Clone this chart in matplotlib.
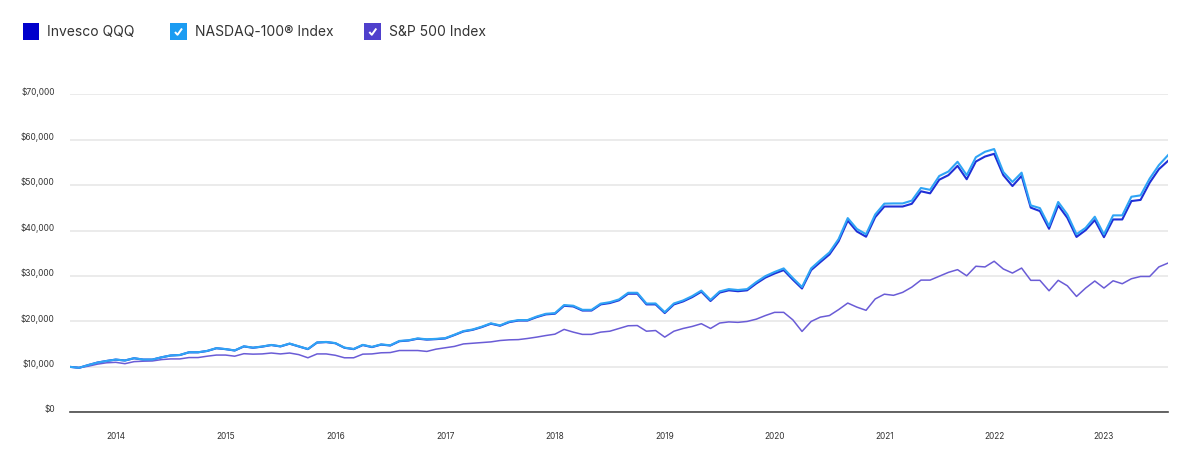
import matplotlib
matplotlib.use("Agg")
import matplotlib.pyplot as plt
import matplotlib.transforms as mtransforms
from matplotlib.patches import Rectangle
from matplotlib.lines import Line2D
from matplotlib.ticker import FuncFormatter

# Growth of $10,000, monthly, Jul 2013 - Jul 2023
qqq = [10000, 9800, 10400, 10950, 11300, 11600, 11400, 11900, 11600, 11600,
       12100, 12500, 12600, 13200, 13200, 13500, 14100, 13900, 13600, 14500,
       14200, 14450, 14800, 14500, 15100,
       14500, 13900, 15350, 15450, 15200, 14200, 13900, 14800, 14350, 14900,
       14700, 15650, 15800, 16200, 16000, 16100, 16250, 17000, 17800, 18150,
       18750, 19500, 19050, 19850,
       20200, 20200, 20950, 21550, 21700, 23450, 23300, 22400, 22400, 23750,
       24050, 24650, 26100, 26100, 23750, 23750, 21850, 23750, 24400, 25350,
       26550, 24500, 26350, 26850,
       26650, 26850, 28350, 29650, 30550, 31300, 29200, 27250, 31300, 33050,
       34750, 37650, 42200, 39800, 38650, 42950, 45300, 45300, 45300, 45900,
       48650, 48200, 51200,
       52200, 54250, 51300, 55200, 56300, 56900, 52200, 49800, 52050, 45050,
       44300, 40400, 45550, 42800, 38600, 40100, 42300, 38550, 42450, 42450,
       46500, 46750, 50550, 53500, 55350]

ndx = [10000, 9800, 10400, 10950, 11300, 11610, 11410, 11910, 11610, 11610,
       12110, 12510, 12620, 13220, 13220, 13520, 14120, 13920, 13620, 14530,
       14230, 14480, 14830, 14530, 15130,
       14530, 13930, 15390, 15490, 15240, 14240, 13940, 14850, 14400, 14950,
       14750, 15710, 15860, 16270, 16070, 16170, 16320, 17070, 17880, 18230,
       18840, 19590, 19140, 19950,
       20300, 20300, 21080, 21680, 21830, 23610, 23460, 22560, 22560, 23920,
       24240, 24850, 26310, 26310, 23940, 23960, 22050, 23960, 24620, 25580,
       26790, 24750, 26610, 27120,
       26920, 27120, 28660, 29980, 30890, 31680, 29550, 27580, 31680, 33480,
       35200, 38140, 42750, 40360, 39190, 43550, 45930, 45980, 45980, 46590,
       49380, 48970, 52020,
       53000, 55150, 52200, 56150, 57350, 57950, 52900, 50700, 52750, 45550,
       44950, 41000, 46300, 43550, 39200, 40600, 43050, 39150, 43350, 43350,
       47450, 47750, 51450, 54400, 56600]

spx = [10000, 9800, 10150, 10600, 10900, 11000, 10700, 11150, 11250, 11300,
       11600, 11750, 11750, 12050, 12050, 12350, 12600, 12600, 12350, 12900,
       12800, 12850, 13050, 12850, 13050,
       12700, 12000, 12850, 12850, 12550, 12000, 12000, 12800, 12850, 13100,
       13150, 13600, 13600, 13600, 13400, 13900, 14200, 14500, 15050, 15200,
       15350, 15500, 15800, 15950,
       16000, 16250, 16550, 16900, 17200, 18250, 17650, 17150, 17150, 17650,
       17850, 18450, 19050, 19100, 17850, 18000, 16550, 17850, 18450, 18900,
       19500, 18450, 19650, 19900,
       19800, 20000, 20500, 21300, 22000, 22000, 20350, 17800, 20000, 20950,
       21300, 22600, 24050, 23150, 22450, 24950, 26000, 25750, 26400, 27550,
       29100, 29100, 29950,
       30800, 31400, 30050, 32150, 32000, 33250, 31550, 30650, 31750, 29050,
       29050, 26750, 29050, 27850, 25500, 27350, 28900, 27350, 28950, 28300,
       29400, 29900, 29900, 32000, 32850]

years = ["2014", "2015", "2016", "2017", "2018", "2019", "2020", "2021", "2022", "2023"]
year_pos = [5, 17, 29, 41, 53, 65, 77, 89, 101, 113]  # month index of each year mark

legend_names = ["Invesco QQQ", "NASDAQ-100\u00ae Index", "S&P 500 Index"]
line_colors = ["#1f2fd6", "#2fa4f5", "#6a5cd6"]
box_colors = ["#0000cc", "#1b9cf2", "#4f40cc"]

plt.rcParams["font.family"] = ["Inter", "DejaVu Sans"]

W, H = 1200, 463
fig = plt.figure(figsize=(W / 100, H / 100), dpi=100)
ax = fig.add_axes([70 / W, 1 - 412.3 / H, 1098 / W, (412.3 - 94.3) / H])

months = list(range(len(qqq)))
ax.plot(months, qqq, color=line_colors[0], lw=1.5, zorder=3)
ax.plot(months, ndx, color=line_colors[1], lw=1.5, zorder=4)
ax.plot(months, spx, color=line_colors[2], lw=1.1, zorder=3)

ax.set_xlim(0, len(qqq) - 1)
ax.set_ylim(0, 70000)
ax.set_yticks(range(0, 70001, 10000))
ax.yaxis.set_major_formatter(FuncFormatter(lambda v, p: f"${v:,.0f}"))
ax.set_xticks(year_pos)
ax.set_xticklabels(years)
ax.grid(axis="y", color="#e8e8e8", lw=1.2)
ax.set_axisbelow(True)

for s in ["top", "right", "left"]:
    ax.spines[s].set_visible(False)
ax.spines["bottom"].set_color("#4a4a4a")
ax.spines["bottom"].set_linewidth(1.2)
ax.spines["bottom"].set_zorder(5)

ax.tick_params(axis="x", length=0, pad=14, labelsize=6, labelcolor="#333333")
ax.tick_params(axis="y", length=0, pad=11, labelsize=6, labelcolor="#333333")

# y labels sit a little above their gridlines
shift = mtransforms.ScaledTranslation(0, 3.5 / 100, fig.dpi_scale_trans)
for lab in ax.get_yticklabels():
    lab.set_transform(lab.get_transform() + shift)

# legend drawn by hand: coloured squares, check marks, labels
box_x = [22.7, 170, 364.3]
text_x = [47, 195, 389]
for i in range(3):
    x0 = box_x[i]
    fig.add_artist(Rectangle((x0 / W, 1 - 40 / H), 16.6 / W, 16.6 / H,
                             transform=fig.transFigure, color=box_colors[i], lw=0))
    if i > 0:
        cx = [x0 + 5, x0 + 7.5, x0 + 12]
        cy = [32, 34.8, 28.5]
        fig.add_artist(Line2D([c / W for c in cx], [1 - c / H for c in cy],
                              transform=fig.transFigure, color="white", lw=1.4,
                              solid_capstyle="butt"))
    fig.text(text_x[i] / W, 1 - 32 / H, legend_names[i], fontsize=10,
             color="#333333", va="center", ha="left")

fig.savefig("out.png", dpi=100, facecolor="white")
